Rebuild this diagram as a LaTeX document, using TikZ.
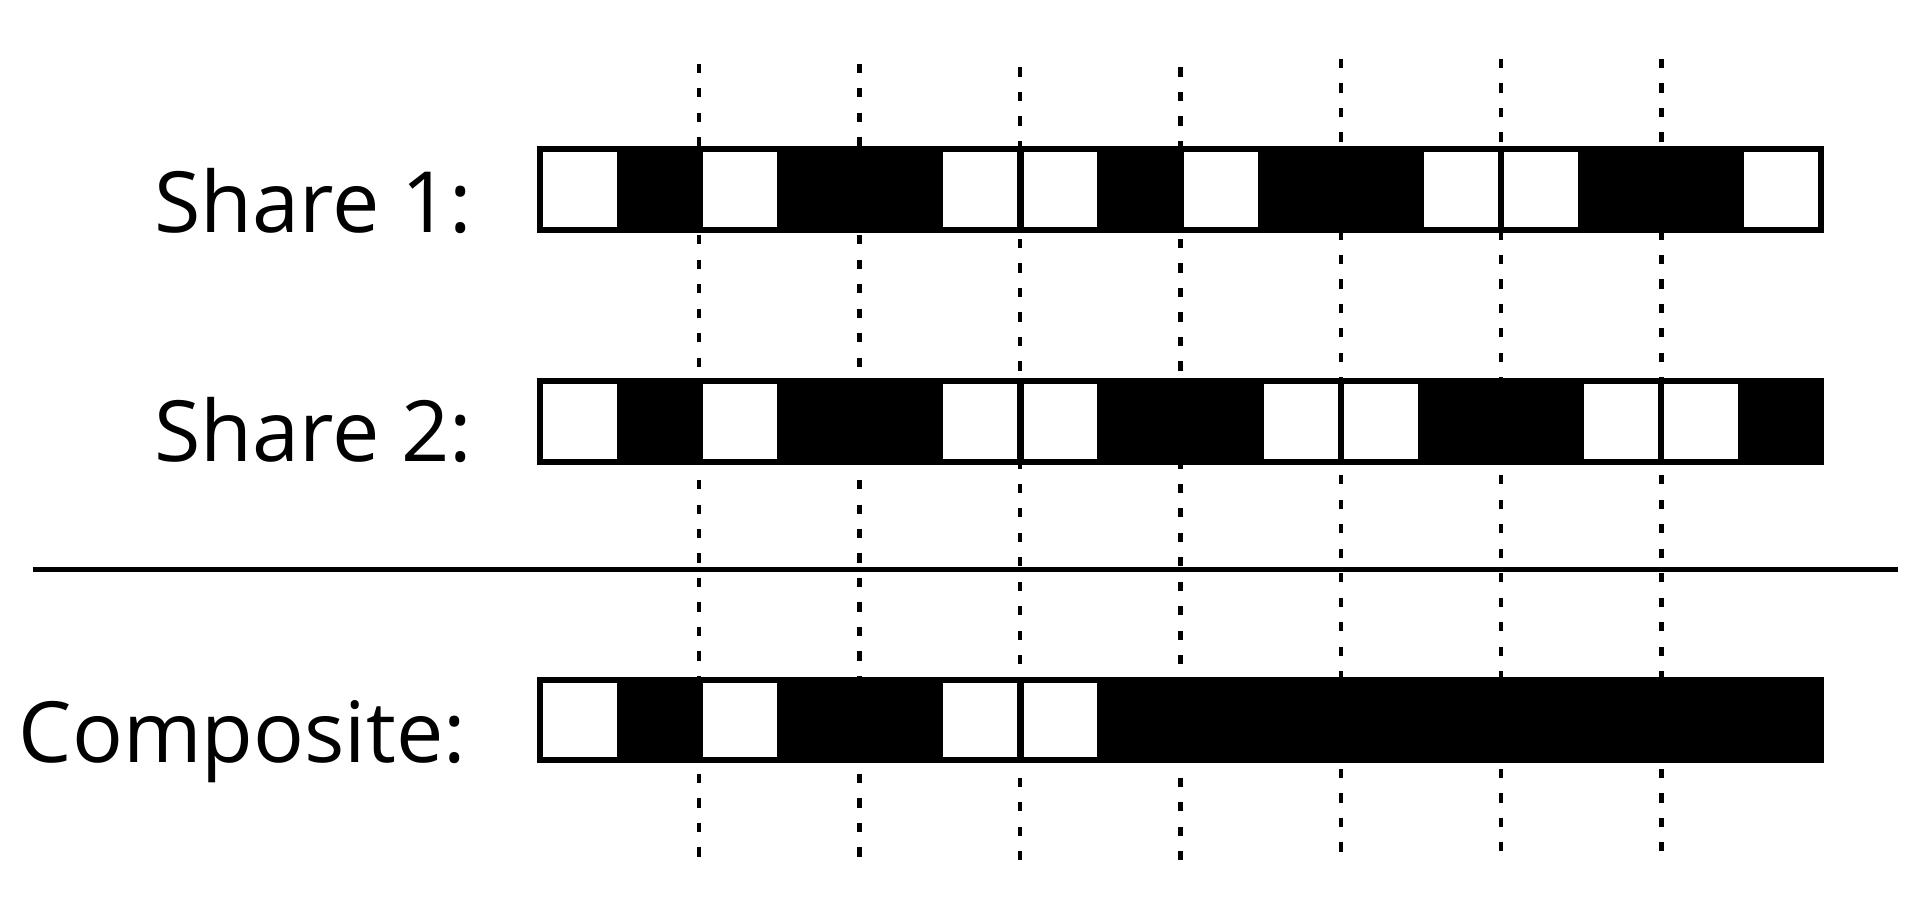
\documentclass[tikz,border=0pt]{standalone}
\usepackage{fontspec}
\setmainfont{Open Sans}
\begin{document}
\begin{tikzpicture}[x=0.5pt,y=-0.5pt,
  cell/.style={draw=black, line width=2.5pt, minimum width=32.75pt, minimum height=33pt, inner sep=0pt, outer sep=0pt},
  dotline/.style={line width=1.8pt, dash pattern=on 3.8pt off 6.2pt},
  rule/.style={line width=1.8pt},
  lbl/.style={font=\fontsize{34.5}{40}\selectfont, inner sep=0pt, anchor=base east}]
\useasboundingbox (0,0) rectangle (1568,746);
% dotted guide lines (behind the bars)
\foreach \k/\t/\b in {1/52/700, 2/52/700, 3/55/702, 4/55/702, 5/48/697, 6/48/695, 7/48/695} {
  \coordinate (d\k t) at ({440+131*\k},\t);
  \coordinate (d\k b) at ({440+131*\k},\b);
  \draw[dotline] (d\k t) -- (d\k b);
}
% separator
\coordinate (hl) at (27,465);
\coordinate (hr) at (1550,465);
\draw[rule] (hl) -- (hr);
% Share 1
\foreach \c [count=\i from 0] in {white,black,white,black,black,white,white,black,white,black,black,white,white,black,black,white}
  \node[cell, fill=\c] (sa\i) at ({441+65.4*\i+32.7},155) {};
% Share 2
\foreach \c [count=\i from 0] in {white,black,white,black,black,white,white,black,black,white,white,black,black,white,white,black}
  \node[cell, fill=\c] (sb\i) at ({441+65.4*\i+32.7},344) {};
% Composite
\foreach \c [count=\i from 0] in {white,black,white,black,black,white,white,black,black,black,black,black,black,black,black,black}
  \node[cell, fill=\c] (co\i) at ({441+65.4*\i+32.7},588) {};
% labels
\node[lbl] (l1) at (386,190) {Share 1:};
\node[lbl] (l2) at (386,377) {Share 2:};
\node[lbl] (l3) at (381,623) {Composite:};
\end{tikzpicture}
\end{document}
